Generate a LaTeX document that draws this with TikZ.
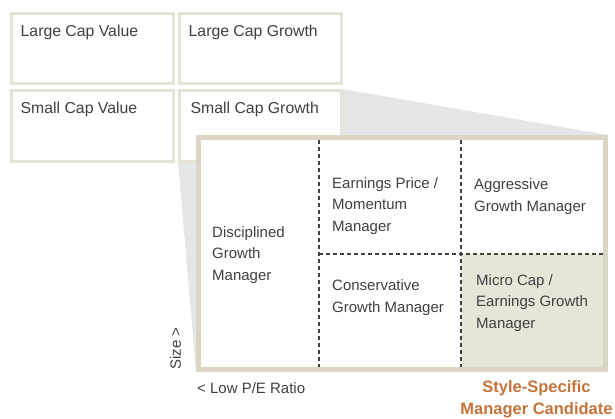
\documentclass[tikz,border=0pt]{standalone}
\usepackage{fontspec}
\setmainfont{Liberation Sans}
\usepackage{xcolor}
\usepackage{tikz}
\definecolor{frame}{RGB}{229,226,214}
\definecolor{bigframe}{RGB}{218,214,197}
\definecolor{cellfill}{RGB}{231,229,216}
\definecolor{shadow}{RGB}{229,230,232}
\definecolor{txt}{RGB}{64,64,64}
\definecolor{accent}{RGB}{196,115,59}

\begin{document}
\begin{tikzpicture}[x=1pt, y=-1pt,
    every node/.style={font=\fontsize{15}{21.5}\selectfont, text=txt, inner sep=0pt},
    box/.style={draw=frame, line width=3pt, fill=white},
    cell/.style={anchor=west, align=left},
    boxlabel/.style={cell, font=\fontsize{15.8}{21.5}\selectfont},
    divider/.style={dash pattern=on 4pt off 3pt, line width=1.2pt, draw=txt}]
    \useasboundingbox (0,0) rectangle (615,418);

    % shadow of the zoomed box
    \fill[shadow] (178,162) -- (178,89) -- (342,89) -- (608,135)
      -- (608,372) -- (196,372) -- cycle;

    % style boxes
    \draw[box] (11.5,13.5) rectangle (173.5,83.5);
    \draw[box] (179.5,13.5) rectangle (341,83.5);
    \draw[box] (11.5,90.5) rectangle (173.5,161.5);
    \draw[box] (179.5,90.5) rectangle (341,161.5);
    \node[boxlabel] (lcv) at (20.5,32) {Large Cap Value};
    \node[boxlabel] (lcg) at (188.5,32) {Large Cap Growth};
    \node[boxlabel] (scv) at (20.5,109) {Small Cap Value};
    \node[boxlabel] (scg) at (190.5,109) {Small Cap Growth};

    % big box
    \coordinate (nw) at (198.5,137.5);
    \coordinate (se) at (605.5,369.5);
    \fill[white] (nw) rectangle (se);
    \fill[cellfill] (461,254) rectangle (se);
    \draw[bigframe, line width=5pt] (nw) rectangle (se);

    % dividers
    \draw[divider] (319,140) -- (319,367);
    \draw[divider] (461,140) -- (461,367);
    \draw[divider] (319,254) -- (603,254);

    % managers
    \node[cell] (disc) at (212,255) {Disciplined\\Growth\\Manager};
    \node[cell] (momentum) at (332,206) {Earnings Price /\\Momentum\\Manager};
    \node[cell] (aggr) at (474,196.5) {Aggressive\\Growth Manager};
    \node[cell] (cons) at (332,297.5) {Conservative\\Growth Manager};
    \node[cell] (micro) at (476,303) {Micro Cap /\\Earnings Growth\\Manager};

    % axes labels
    \node[rotate=90] (size) at (175.5,348.5) {Size >};
    \node[cell] (pe) at (197,388) {< Low P/E Ratio};
    \node[align=center, text=accent, font=\fontsize{16.5}{22}\selectfont\bfseries]
      (candidate) at (536.5,399) {Style-Specific\\Manager Candidate};
\end{tikzpicture}
\end{document}
